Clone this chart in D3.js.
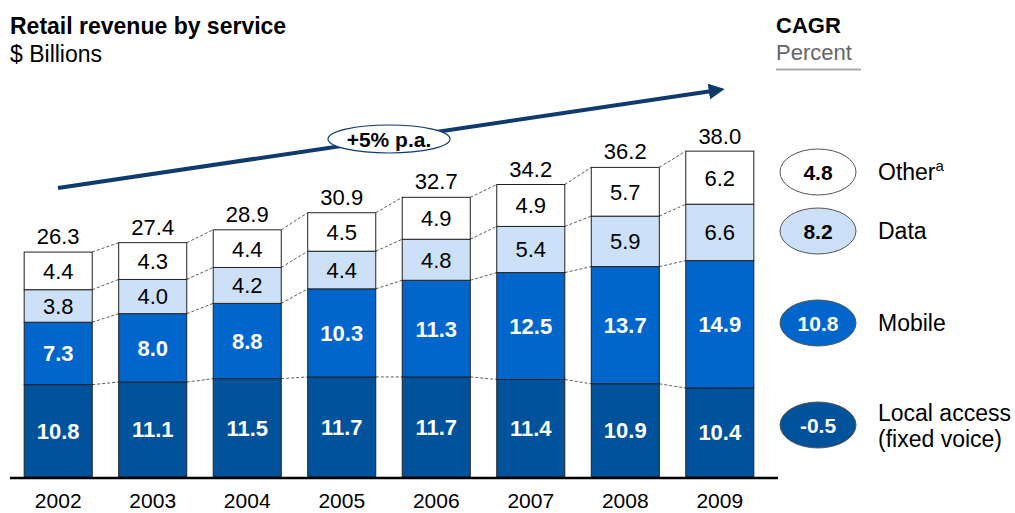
<!DOCTYPE html>
<html>
<head>
<meta charset="utf-8">
<script src="https://cdn.jsdelivr.net/npm/d3@7"></script>
<style>
  body { margin: 0; background: #fff; }
  text { font-family: "Liberation Sans", Arial, sans-serif; }
</style>
</head>
<body>
<div id="chart"></div>
<script>
// data, $ billions
var years = ["2002", "2003", "2004", "2005", "2006", "2007", "2008", "2009"];
var localAccess = [10.8, 11.1, 11.5, 11.7, 11.7, 11.4, 10.9, 10.4];
var mobile = [7.3, 8.0, 8.8, 10.3, 11.3, 12.5, 13.7, 14.9];
var dataSvc = [3.8, 4.0, 4.2, 4.4, 4.8, 5.4, 5.9, 6.6];
var other = [4.4, 4.3, 4.4, 4.5, 4.9, 4.9, 5.7, 6.2];
var totals = [26.3, 27.4, 28.9, 30.9, 32.7, 34.2, 36.2, 38.0];
var seriesNames = ["Local access", "Mobile", "Data", "Other"];
var cagr = [-0.5, 10.8, 8.2, 4.8];

var W = 1015, H = 513;
var fills = ["#00539B", "#0066CC", "#CCE0F8", "#FFFFFF"];
var textFill = ["#fff", "#fff", "#000", "#000"];
var textWeight = ["bold", "bold", "normal", "normal"];

var svg = d3.select("#chart").append("svg")
  .attr("width", W).attr("height", H);

var x = d3.scaleBand().domain(years).range([10, 768]).paddingInner(0.28).paddingOuter(0.15);
var y = d3.scaleLinear().domain([0, 38.0]).range([477, 152]);

var table = years.map(function (yr, i) {
  return { year: yr, v: [localAccess[i], mobile[i], dataSvc[i], other[i]] };
});
var stacked = table.map(function (d) {
  var acc = 0;
  return d.v.map(function (v, k) {
    var seg = { year: d.year, k: k, v: v, y0: acc, y1: acc + v };
    acc += v;
    return seg;
  });
});

// dashed connectors between bars
for (var i = 0; i < years.length - 1; i++) {
  for (var k = 0; k < 4; k++) {
    var a = stacked[i][k].y1, b = stacked[i + 1][k].y1;
    svg.append("line")
      .attr("x1", x(years[i]) + x.bandwidth()).attr("y1", y(a))
      .attr("x2", x(years[i + 1])).attr("y2", y(b))
      .attr("stroke", "#333").attr("stroke-width", 0.8)
      .attr("stroke-dasharray", "3,2");
  }
}

var g = svg.selectAll(".bar").data(stacked).enter().append("g").attr("class", "bar");
g.selectAll("rect").data(function (d) { return d; }).enter().append("rect")
  .attr("x", function (d) { return x(d.year); })
  .attr("y", function (d) { return y(d.y1); })
  .attr("width", x.bandwidth())
  .attr("height", function (d) { return y(d.y0) - y(d.y1); })
  .attr("fill", function (d) { return fills[d.k]; })
  .attr("stroke", "#222").attr("stroke-width", 1);

g.selectAll(".val").data(function (d) { return d; }).enter().append("text")
  .attr("x", function (d) { return x(d.year) + x.bandwidth() / 2; })
  .attr("y", function (d) { return (y(d.y0) + y(d.y1)) / 2; })
  .attr("dy", "0.36em")
  .attr("text-anchor", "middle")
  .attr("font-size", "22px")
  .attr("font-weight", function (d) { return textWeight[d.k]; })
  .attr("fill", function (d) { return textFill[d.k]; })
  .text(function (d) { return d.v.toFixed(1); });

// totals
svg.selectAll(".total").data(years).enter().append("text")
  .attr("x", function (d) { return x(d) + x.bandwidth() / 2; })
  .attr("y", function (d, i) { return y(totals[i]) - 8; })
  .attr("text-anchor", "middle")
  .attr("font-size", "22px")
  .text(function (d, i) { return totals[i].toFixed(1); });

// baseline + year axis
svg.append("line").attr("x1", 10).attr("x2", 778).attr("y1", y(0) + 1).attr("y2", y(0) + 1)
  .attr("stroke", "#000").attr("stroke-width", 2.5);
svg.append("g").attr("transform", "translate(0," + (y(0) + 2) + ")")
  .call(d3.axisBottom(x).tickSize(0).tickPadding(14))
  .call(function (s) { s.select(".domain").remove(); })
  .selectAll("text").attr("font-size", "21px").attr("fill", "#000")
  .style("font-family", "Liberation Sans, Arial, sans-serif");

// titles
svg.append("text").attr("x", 10).attr("y", 34).attr("font-size", "23px").attr("font-weight", "bold").text("Retail revenue by service");
svg.append("text").attr("x", 10).attr("y", 62).attr("font-size", "23px").text("$ Billions");
svg.append("text").attr("x", 776).attr("y", 33).attr("font-size", "22px").attr("font-weight", "bold").text("CAGR");
svg.append("text").attr("x", 776).attr("y", 60).attr("font-size", "22px").attr("fill", "#666").text("Percent");
svg.append("line").attr("x1", 776).attr("x2", 861).attr("y1", 69.5).attr("y2", 69.5).attr("stroke", "#aaa").attr("stroke-width", 2);

// growth arrow
svg.append("defs").append("marker").attr("id", "ah")
  .attr("viewBox", "0 0 10 10").attr("refX", 2).attr("refY", 5)
  .attr("markerWidth", 4).attr("markerHeight", 4).attr("orient", "auto")
  .append("path").attr("d", "M0,0 L10,5 L0,10 Z").attr("fill", "#0E3A6E");
svg.append("line").attr("x1", 58).attr("y1", 188).attr("x2", 712).attr("y2", 91)
  .attr("stroke", "#0E3A6E").attr("stroke-width", 4).attr("marker-end", "url(#ah)");
svg.append("ellipse").attr("cx", 389).attr("cy", 139).attr("rx", 61).attr("ry", 14)
  .attr("fill", "#fff").attr("stroke", "#0E3A6E").attr("stroke-width", 1.2);
svg.append("text").attr("x", 389).attr("y", 139).attr("dy", "0.36em").attr("text-anchor", "middle")
  .attr("font-size", "21px").attr("font-weight", "bold").text("+5% p.a.");

// CAGR legend
var legY = [425, 323, 231, 172];
var leg = svg.selectAll(".leg").data(seriesNames).enter().append("g")
  .attr("transform", function (d, i) { return "translate(818," + legY[i] + ")"; });
leg.append("ellipse").attr("rx", 38).attr("ry", 23)
  .attr("fill", function (d, i) { return fills[i]; })
  .attr("stroke", "#555").attr("stroke-width", 1);
leg.append("text").attr("dy", "0.36em").attr("text-anchor", "middle")
  .attr("font-size", "21px").attr("font-weight", "bold")
  .attr("fill", function (d, i) { return textFill[i]; })
  .text(function (d, i) { return cagr[i].toFixed(1); });

var lbl = leg.append("text").attr("x", 60).attr("font-size", "23px");
lbl.filter(function (d, i) { return i === 0; })
  .attr("y", -4)
  .call(function (t) {
    t.append("tspan").attr("x", 60).attr("dy", "0").text("Local access");
    t.append("tspan").attr("x", 60).attr("dy", "1.15em").text("(fixed voice)");
  });
lbl.filter(function (d, i) { return i === 1 || i === 2; })
  .attr("dy", "0.36em").text(function (d) { return d; });
lbl.filter(function (d, i) { return i === 3; })
  .attr("dy", "0.36em")
  .call(function (t) {
    t.append("tspan").text("Other");
    t.append("tspan").attr("font-size", "15px").attr("dy", "-0.6em").text("a");
  });
</script>
</body>
</html>
